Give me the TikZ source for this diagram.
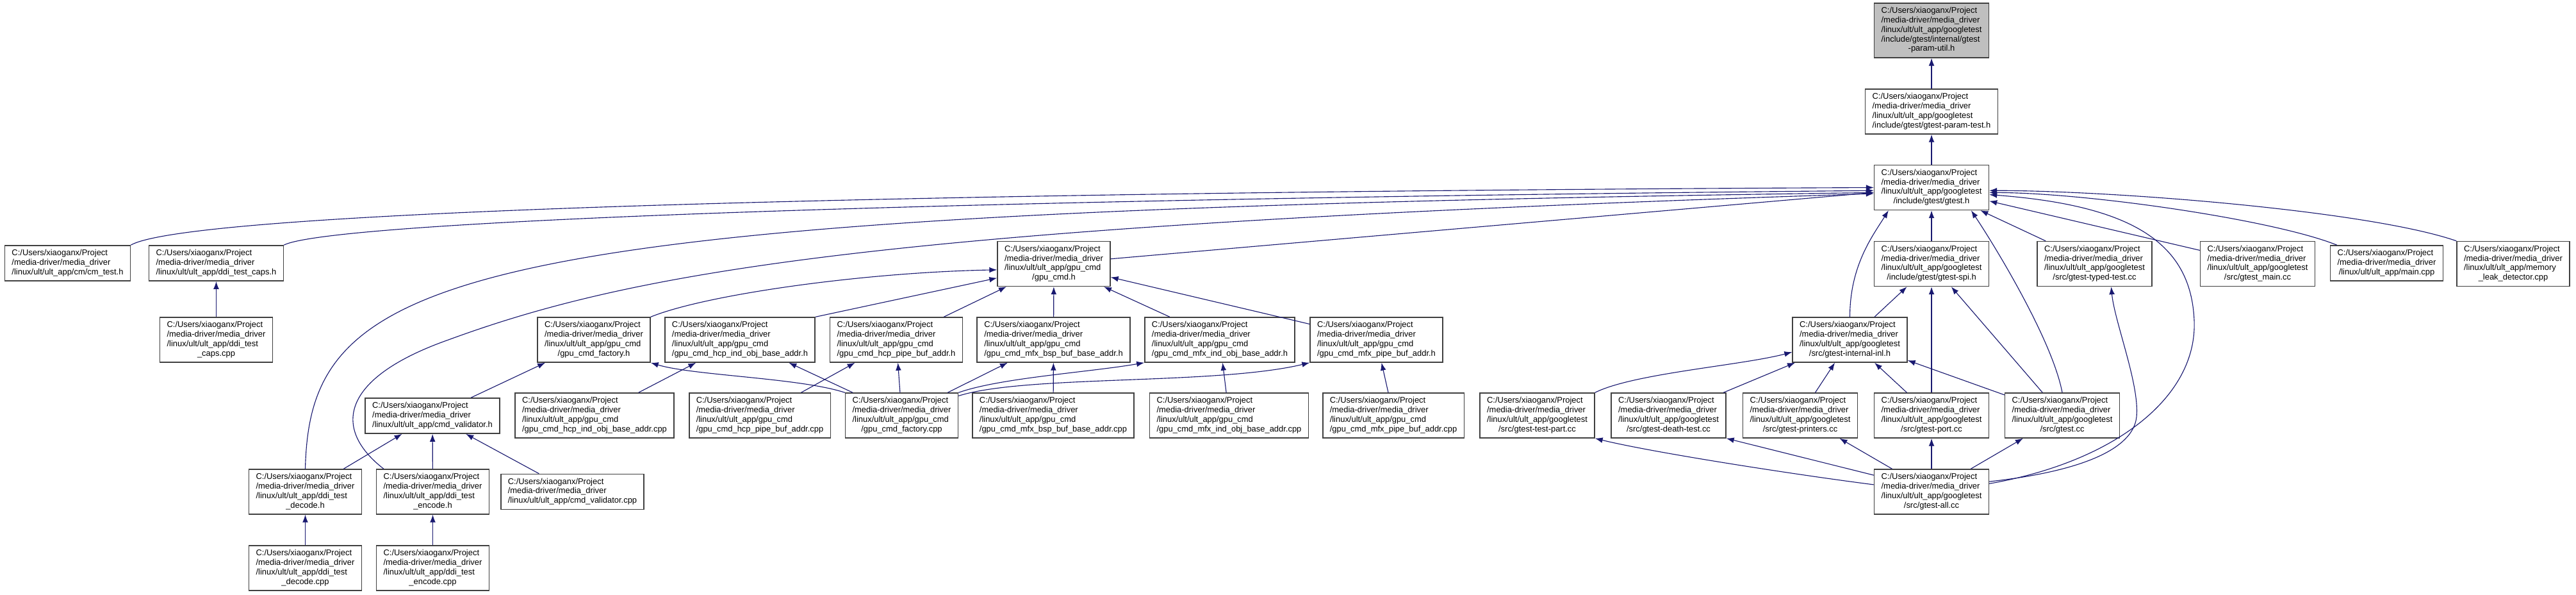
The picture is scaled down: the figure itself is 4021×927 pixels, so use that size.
\documentclass[tikz,border=0pt]{standalone}
\usepackage{fontspec}
\setmainfont{Liberation Sans}
\usepackage{xcolor}
\usetikzlibrary{arrows.meta}
\definecolor{edgeblue}{RGB}{25,25,112}
\definecolor{boxline}{RGB}{64,64,64}
\definecolor{tgtfill}{RGB}{191,191,191}
\newcommand{\fpath}[2]{\begin{tabular}{@{}l@{}}C:/Users/xiaoganx/Project\\/media-driver/media\_driver#1\\\multicolumn{1}{@{}c@{}}{#2}\end{tabular}}
\tikzset{
  fnode/.style ={draw=boxline, line width=1.1pt, fill=white, rectangle, inner xsep=0.275cm, inner ysep=0.135cm, font=\fontsize{9.2pt}{10.5pt}\selectfont},
  ftgt/.style  ={fnode, fill=tgtfill},
  arr/.style   ={-{Latex[length=3mm, width=2.2mm]}, color=edgeblue, line width=0.8pt},
}
\begin{document}
\begin{tikzpicture}[x=0.025cm, y=-0.025cm]
  \useasboundingbox (0,0) rectangle (4021,927);

  \node[ftgt]  (tgt)    at (3015,47.5)  {\fpath{\\/linux/ult/ult\_app/googletest\\/include/gtest/internal/gtest}{-param-util.h}};
  \node[fnode] (ptest)  at (3015,174)   {\fpath{\\/linux/ult/ult\_app/googletest}{/include/gtest/gtest-param-test.h}};
  \node[fnode] (gtesth) at (3015,292.5) {\fpath{\\/linux/ult/ult\_app/googletest}{/include/gtest/gtest.h}};

  \node[fnode] (cmtest) at (105.5,410.5)  {\fpath{}{/linux/ult/ult\_app/cm/cm\_test.h}};
  \node[fnode] (capsh)  at (337.5,410.5)  {\fpath{}{/linux/ult/ult\_app/ddi\_test\_caps.h}};
  \node[fnode] (gpucmd) at (1645,411.5)   {\fpath{\\/linux/ult/ult\_app/gpu\_cmd}{/gpu\_cmd.h}};
  \node[fnode] (spi)    at (3015,411.5)   {\fpath{\\/linux/ult/ult\_app/googletest}{/include/gtest/gtest-spi.h}};
  \node[fnode] (typed)  at (3269.5,411.5) {\fpath{\\/linux/ult/ult\_app/googletest}{/src/gtest-typed-test.cc}};
  \node[fnode] (gmain)  at (3524,411.5)   {\fpath{\\/linux/ult/ult\_app/googletest}{/src/gtest\_main.cc}};
  \node[fnode] (mainc)  at (3725.5,410.5) {\fpath{}{/linux/ult/ult\_app/main.cpp}};
  \node[fnode] (leak)   at (3923,411.5)   {\fpath{\\/linux/ult/ult\_app/memory}{\_leak\_detector.cpp}};

  \node[fnode] (capscpp) at (337.5,530)  {\fpath{\\/linux/ult/ult\_app/ddi\_test}{\_caps.cpp}};
  \node[fnode] (facth)   at (927,530)    {\fpath{\\/linux/ult/ult\_app/gpu\_cmd}{/gpu\_cmd\_factory.h}};
  \node[fnode] (hcpih)   at (1155,530)   {\fpath{\\/linux/ult/ult\_app/gpu\_cmd}{/gpu\_cmd\_hcp\_ind\_obj\_base\_addr.h}};
  \node[fnode] (hcpph)   at (1399,530)   {\fpath{\\/linux/ult/ult\_app/gpu\_cmd}{/gpu\_cmd\_hcp\_pipe\_buf\_addr.h}};
  \node[fnode] (bsph)    at (1644.5,530) {\fpath{\\/linux/ult/ult\_app/gpu\_cmd}{/gpu\_cmd\_mfx\_bsp\_buf\_base\_addr.h}};
  \node[fnode] (mfxih)   at (1904,530)   {\fpath{\\/linux/ult/ult\_app/gpu\_cmd}{/gpu\_cmd\_mfx\_ind\_obj\_base\_addr.h}};
  \node[fnode] (mfxph)   at (2148.5,530) {\fpath{\\/linux/ult/ult\_app/gpu\_cmd}{/gpu\_cmd\_mfx\_pipe\_buf\_addr.h}};
  \node[fnode] (inl)     at (2887.5,530) {\fpath{\\/linux/ult/ult\_app/googletest}{/src/gtest-internal-inl.h}};

  \node[fnode] (valh)     at (675,648.5)  {\fpath{}{/linux/ult/ult\_app/cmd\_validator.h}};
  \node[fnode] (hcpic)    at (928,648)    {\fpath{\\/linux/ult/ult\_app/gpu\_cmd}{/gpu\_cmd\_hcp\_ind\_obj\_base\_addr.cpp}};
  \node[fnode] (hcppc)    at (1186,648)   {\fpath{\\/linux/ult/ult\_app/gpu\_cmd}{/gpu\_cmd\_hcp\_pipe\_buf\_addr.cpp}};
  \node[fnode] (factc)    at (1407.5,648) {\fpath{\\/linux/ult/ult\_app/gpu\_cmd}{/gpu\_cmd\_factory.cpp}};
  \node[fnode] (bspc)     at (1644,648)   {\fpath{\\/linux/ult/ult\_app/gpu\_cmd}{/gpu\_cmd\_mfx\_bsp\_buf\_base\_addr.cpp}};
  \node[fnode] (mfxic)    at (1918.5,648) {\fpath{\\/linux/ult/ult\_app/gpu\_cmd}{/gpu\_cmd\_mfx\_ind\_obj\_base\_addr.cpp}};
  \node[fnode] (mfxpc)    at (2175,648)   {\fpath{\\/linux/ult/ult\_app/gpu\_cmd}{/gpu\_cmd\_mfx\_pipe\_buf\_addr.cpp}};
  \node[fnode] (tpart)    at (2399.5,648) {\fpath{\\/linux/ult/ult\_app/googletest}{/src/gtest-test-part.cc}};
  \node[fnode] (death)    at (2604.5,648) {\fpath{\\/linux/ult/ult\_app/googletest}{/src/gtest-death-test.cc}};
  \node[fnode] (printers) at (2810,648)   {\fpath{\\/linux/ult/ult\_app/googletest}{/src/gtest-printers.cc}};
  \node[fnode] (port)     at (3015,648)   {\fpath{\\/linux/ult/ult\_app/googletest}{/src/gtest-port.cc}};
  \node[fnode] (gtestcc)  at (3219,648)   {\fpath{\\/linux/ult/ult\_app/googletest}{/src/gtest.cc}};

  \node[fnode] (dech) at (476.5,767) {\fpath{\\/linux/ult/ult\_app/ddi\_test}{\_decode.h}};
  \node[fnode] (ench) at (675.5,767) {\fpath{\\/linux/ult/ult\_app/ddi\_test}{\_encode.h}};
  \node[fnode] (valc) at (893.5,767) {\fpath{}{/linux/ult/ult\_app/cmd\_validator.cpp}};
  \node[fnode] (gall) at (3015,767)  {\fpath{\\/linux/ult/ult\_app/googletest}{/src/gtest-all.cc}};

  \node[fnode] (decc) at (476.5,886) {\fpath{\\/linux/ult/ult\_app/ddi\_test}{\_decode.cpp}};
  \node[fnode] (encc) at (675.5,886) {\fpath{\\/linux/ult/ult\_app/ddi\_test}{\_encode.cpp}};

  % top chain
  \draw[arr] (ptest) -- (tgt);
  \draw[arr] (gtesth) -- (ptest);

  % into gtest.h
  \draw[arr] (cmtest.north east) .. controls +(94,-53) and +(-1525,7) .. (gtesth.west);
  \draw[arr] (capsh.north east) .. controls +(76,-38) and +(-1425,13) .. (gtesth.183);
  \draw[arr] (dech.north) .. controls +(8,-312) and +(-2225,30) .. (gtesth.185);
  \draw[arr] (ench.155) .. controls +(-80,-62) and +(-170,60) .. (700,530) .. controls +(300,-110) and +(-1525,49) .. (gtesth.186);
  \draw[arr] (gpucmd) -- (gtesth);
  \draw[arr] (spi) -- (gtesth);
  \draw[arr] (inl.north) .. controls +(0,-80) and +(-25,40) .. (gtesth.208);
  \draw[arr] (gtestcc.north) .. controls +(-15,-80) and +(40,60) .. (gtesth.330);
  \draw[arr] (typed) -- (gtesth);
  \draw[arr] (gmain) -- (gtesth);
  \draw[arr] (mainc.160) .. controls +(-100,-40) and +(150,0) .. (gtesth.355);
  \draw[arr] (leak.north west) .. controls +(-136,-47) and +(195,0) .. (gtesth.357);
  \draw[arr] (gall.8) .. controls +(195,-34) and +(5,120) .. (3425,500) .. controls +(-5,-120) and +(225,17) .. (gtesth.353);
  \draw[arr] (gall.10) .. controls +(145,-16) and +(-5,50) .. (3335,650) .. controls +(5,-50) and +(5,54) .. (typed.306);

  % gpu_cmd.h
  \draw[arr] (facth.north east) .. controls +(86,-35) and +(-208,4) .. (gpucmd.186);
  \draw[arr] (hcpih.north east) -- (gpucmd.194);
  \draw[arr] (hcpph) -- (gpucmd);
  \draw[arr] (bsph) -- (gpucmd);
  \draw[arr] (mfxih) -- (gpucmd);
  \draw[arr] (mfxph) -- (gpucmd);

  % gpu_cmd sources
  \draw[arr] (valh) -- (facth);
  \draw[arr] (factc.north west) .. controls +(-70,-23) and +(66,20) .. (facth.south east);
  \draw[arr] (factc) -- (hcpih);
  \draw[arr] (factc) -- (hcpph);
  \draw[arr] (factc) -- (bsph);
  \draw[arr] (factc.north east) .. controls +(65,-23) and +(-87,15) .. (mfxih.south west);
  \draw[arr] (factc.19) .. controls +(105,-33) and +(-146,35) .. (mfxph.south west);
  \draw[arr] (hcpic) -- (hcpih);
  \draw[arr] (hcppc) -- (hcpph);
  \draw[arr] (bspc) -- (bsph);
  \draw[arr] (mfxic) -- (mfxih);
  \draw[arr] (mfxpc) -- (mfxph);

  % ddi tests
  \draw[arr] (capscpp) -- (capsh);
  \draw[arr] (dech) -- (valh);
  \draw[arr] (ench) -- (valh);
  \draw[arr] (valc) -- (valh);
  \draw[arr] (decc) -- (dech);
  \draw[arr] (encc) -- (ench);

  % googletest sources
  \draw[arr] (inl) -- (spi);
  \draw[arr] (port) -- (spi);
  \draw[arr] (gtestcc) -- (spi);
  \draw[arr] (tpart.north east) .. controls +(60,-30) and +(-80,21) .. (inl.192);
  \draw[arr] (death) -- (inl);
  \draw[arr] (printers) -- (inl);
  \draw[arr] (port) -- (inl);
  \draw[arr] (gtestcc) -- (inl);
  \draw[arr] (gall.173) .. controls +(-125,-16) and +(90,22) .. (tpart.south east);
  \draw[arr] (gall.164) -- (death.south east);
  \draw[arr] (gall) -- (printers);
  \draw[arr] (gall) -- (port);
  \draw[arr] (gall) -- (gtestcc);
\end{tikzpicture}
\end{document}
